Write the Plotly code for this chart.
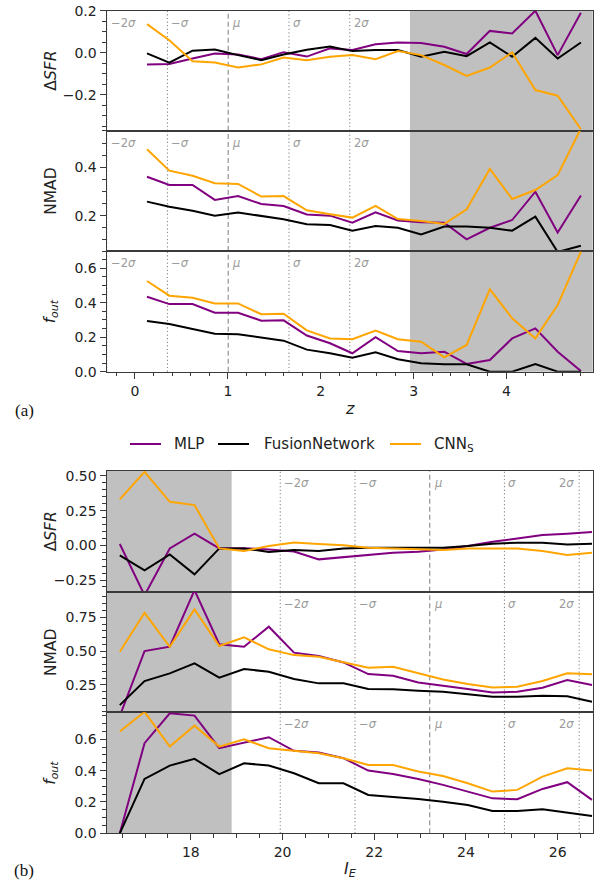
import plotly.graph_objects as go

# ---------------- data: panel (a) vs redshift z ----------------
z_a = [0.13, 0.37, 0.62, 0.86, 1.11, 1.36, 1.60, 1.85, 2.10, 2.34,
       2.59, 2.83, 3.08, 3.33, 3.57, 3.82, 4.06, 4.31, 4.55, 4.80]

dsfr_a_mlp = [-0.055, -0.053, -0.027, -0.003, -0.008, -0.030, 0.003, -0.018, 0.021, 0.013,
              0.041, 0.049, 0.046, 0.029, -0.006, 0.104, 0.092, 0.200, -0.011, 0.190]
dsfr_a_fus = [-0.003, -0.047, 0.010, 0.016, -0.011, -0.035, -0.008, 0.015, 0.030, 0.008,
              0.013, 0.013, -0.019, 0.005, -0.016, 0.049, -0.019, 0.071, -0.027, 0.049]
dsfr_a_cnn = [0.136, 0.060, -0.040, -0.046, -0.070, -0.055, -0.022, -0.035, -0.019, -0.011,
              -0.030, 0.008, -0.011, -0.058, -0.110, -0.070, 0.002, -0.177, -0.204, -0.363]

nmad_a_mlp = [0.361, 0.327, 0.327, 0.265, 0.281, 0.248, 0.240, 0.205, 0.200, 0.171,
              0.214, 0.180, 0.173, 0.171, 0.102, 0.150, 0.182, 0.299, 0.130, 0.283]
nmad_a_fus = [0.258, 0.237, 0.220, 0.200, 0.213, 0.200, 0.185, 0.165, 0.161, 0.138,
              0.157, 0.150, 0.122, 0.155, 0.155, 0.150, 0.138, 0.196, 0.050, 0.076]
nmad_a_cnn = [0.474, 0.386, 0.365, 0.334, 0.331, 0.279, 0.281, 0.222, 0.206, 0.192,
              0.240, 0.186, 0.178, 0.166, 0.226, 0.393, 0.269, 0.306, 0.368, 0.560]

fout_a_mlp = [0.435, 0.392, 0.392, 0.342, 0.342, 0.296, 0.298, 0.210, 0.165, 0.107,
              0.200, 0.120, 0.107, 0.116, 0.045, 0.068, 0.193, 0.251, 0.116, 0.004]
fout_a_fus = [0.294, 0.277, 0.248, 0.220, 0.217, 0.200, 0.180, 0.128, 0.107, 0.081,
              0.112, 0.072, 0.049, 0.043, 0.043, 0.000, 0.000, 0.045, 0.000, 0.000]
fout_a_cnn = [0.526, 0.441, 0.429, 0.396, 0.396, 0.333, 0.336, 0.240, 0.193, 0.188,
              0.238, 0.188, 0.174, 0.083, 0.155, 0.478, 0.310, 0.193, 0.387, 0.696]

# ---------------- data: panel (b) vs magnitude I_E ----------------
i_b = [16.45, 16.99, 17.54, 18.08, 18.62, 19.16, 19.70, 20.25, 20.79, 21.33,
       21.87, 22.41, 22.96, 23.50, 24.04, 24.58, 25.12, 25.67, 26.21, 26.75]

dsfr_b_mlp = [0.010, -0.360, -0.022, 0.084, -0.022, -0.020, -0.030, -0.045, -0.101, -0.084,
              -0.065, -0.053, -0.046, -0.029, -0.005, 0.026, 0.050, 0.074, 0.084, 0.096]
dsfr_b_fus = [-0.072, -0.180, -0.065, -0.209, -0.022, -0.022, -0.048, -0.034, -0.041, -0.022,
              -0.017, -0.017, -0.022, -0.017, -0.005, 0.012, 0.019, 0.019, 0.007, 0.012]
dsfr_b_cnn = [0.332, 0.530, 0.314, 0.290, -0.022, -0.041, -0.005, 0.020, 0.010, 0.000,
              -0.017, -0.024, -0.029, -0.034, -0.022, -0.024, -0.022, -0.041, -0.070, -0.053]

nmad_b_mlp = [0.020, 0.500, 0.532, 0.950, 0.550, 0.532, 0.680, 0.488, 0.463, 0.416,
              0.330, 0.317, 0.268, 0.241, 0.219, 0.194, 0.199, 0.229, 0.286, 0.249]
nmad_b_fus = [0.100, 0.278, 0.335, 0.409, 0.303, 0.367, 0.347, 0.293, 0.261, 0.261,
              0.219, 0.217, 0.206, 0.199, 0.180, 0.162, 0.162, 0.169, 0.166, 0.125]
nmad_b_cnn = [0.495, 0.783, 0.532, 0.808, 0.537, 0.601, 0.513, 0.470, 0.458, 0.416,
              0.377, 0.384, 0.335, 0.290, 0.256, 0.231, 0.236, 0.278, 0.335, 0.328]

fout_b_mlp = [0.000, 0.575, 0.766, 0.751, 0.543, 0.579, 0.613, 0.526, 0.515, 0.479,
              0.400, 0.379, 0.347, 0.309, 0.266, 0.223, 0.217, 0.283, 0.326, 0.213]
fout_b_fus = [0.000, 0.347, 0.432, 0.475, 0.377, 0.447, 0.432, 0.383, 0.319, 0.319,
              0.245, 0.234, 0.219, 0.202, 0.181, 0.143, 0.143, 0.153, 0.134, 0.111]
fout_b_cnn = [0.649, 0.775, 0.553, 0.687, 0.553, 0.600, 0.543, 0.528, 0.511, 0.479,
              0.436, 0.436, 0.394, 0.366, 0.319, 0.266, 0.277, 0.362, 0.415, 0.400]

# distribution markers (mean / sigma) and shaded ranges
mu_a, sig_a = 1.004, 0.654
mu_b, sig_b = 23.21, 1.63
shade_a = [2.96, 5.2]
shade_b = [15.5, 18.89]
sigma_labels = ["\u22122<i>\u03c3</i>", "\u2212<i>\u03c3</i>", "<i>\u03bc</i>", "<i>\u03c3</i>", "2<i>\u03c3</i>"]

series_names = ["MLP", "FusionNetwork", "CNN<sub>S</sub>"]
series_colors = ["#800080", "#000000", "#FFA500"]

# ---------------- layout helpers ----------------
W, H = 601, 883
def fx(p):
    return p / W
def fy(p):
    return 1 - p / H

X_DOM = [fx(106.5), fx(592.7)]
panels = [
    (z_a, [dsfr_a_mlp, dsfr_a_fus, dsfr_a_cnn], [-0.37, 0.2], 0.2, 0.05, ".1f", (10.7, 130.7), "a"),
    (z_a, [nmad_a_mlp, nmad_a_fus, nmad_a_cnn], [0.054, 0.551], 0.2, 0.05, ".1f", (130.7, 251.0), "a"),
    (z_a, [fout_a_mlp, fout_a_fus, fout_a_cnn], [0.0, 0.70], 0.2, 0.05, ".1f", (251.0, 371.7), "a"),
    (i_b, [dsfr_b_mlp, dsfr_b_fus, dsfr_b_cnn], [-0.334, 0.536], 0.25, 0.05, ".2f", (471.0, 591.7), "b"),
    (i_b, [nmad_b_mlp, nmad_b_fus, nmad_b_cnn], [0.047, 0.939], 0.25, 0.05, ".2f", (591.7, 712.3), "b"),
    (i_b, [fout_b_mlp, fout_b_fus, fout_b_cnn], [0.0, 0.772], 0.2, 0.05, ".1f", (712.3, 833.3), "b"),
]
ytitles = ["\u0394<i>SFR</i>", "NMAD", "<i>f</i><sub><i>out</i></sub>"] * 2

XR_A = [-0.306, 4.927]
XR_B = [16.16, 26.765]

fig = go.Figure()
shapes, annots = [], []
tickfont = dict(family="DejaVu Sans", size=14, color="#222222")
axcol = "#3a3a3a"

for k, (xs, ys, yr, ydt, ymin, fmt, (top, bot), grp) in enumerate(panels, start=1):
    xa = "x" if k == 1 else f"x{k}"
    ya = "y" if k == 1 else f"y{k}"
    for j, (yv, name, col) in enumerate(zip(ys, series_names, series_colors)):
        fig.add_trace(go.Scatter(x=xs, y=yv, mode="lines", name=name,
                                 line=dict(color=col, width=2),
                                 showlegend=False, xaxis=xa, yaxis=ya,
                                 hoverinfo="skip"))
    is_bottom = k in (3, 6)
    xr = XR_A if grp == "a" else XR_B
    xaxis = dict(domain=X_DOM, range=xr, anchor=ya, showgrid=False, zeroline=False,
                 showline=True, mirror=True, linecolor=axcol, linewidth=1,
                 tickfont=tickfont, automargin=False)
    if is_bottom:
        if grp == "a":
            xaxis.update(tickmode="linear", tick0=0, dtick=1,
                         minor=dict(ticks="outside", dtick=0.2, tick0=0, ticklen=3.5, tickcolor=axcol))
        else:
            xaxis.update(tickmode="linear", tick0=0, dtick=2,
                         minor=dict(ticks="outside", dtick=0.5, tick0=0, ticklen=3.5, tickcolor=axcol))
        xaxis.update(ticks="outside", ticklen=6, tickcolor=axcol, showticklabels=True)
    else:
        xaxis.update(ticks="", showticklabels=False)
    yaxis = dict(domain=[fy(bot), fy(top)], range=yr, anchor=xa, showgrid=False, zeroline=False,
                 showline=True, mirror=True, linecolor=axcol, linewidth=1,
                 tickmode="linear", tick0=0, dtick=ydt, tickformat=fmt,
                 ticks="outside", ticklen=6, tickcolor=axcol, tickfont=tickfont, automargin=False,
                 minor=dict(ticks="outside", dtick=ymin, tick0=0, ticklen=3.5, tickcolor=axcol))
    fig.layout[("xaxis" if k == 1 else f"xaxis{k}")] = xaxis
    fig.layout[("yaxis" if k == 1 else f"yaxis{k}")] = yaxis

    # shaded region
    sh = shade_a if grp == "a" else shade_b
    shapes.append(dict(type="rect", xref=xa, yref=f"{ya} domain", x0=sh[0], x1=sh[1], y0=0, y1=1,
                       fillcolor="#c0c0c0", line=dict(width=0), layer="below"))
    # sigma lines + labels
    mu, sg = (mu_a, sig_a) if grp == "a" else (mu_b, sig_b)
    for m, lab in zip([-2, -1, 0, 1, 2], sigma_labels):
        xv = mu + m * sg
        shapes.append(dict(type="line", xref=xa, yref=f"{ya} domain", x0=xv, x1=xv, y0=0, y1=1,
                           line=dict(color="#8a8a8a", width=1.1,
                                     dash="5px,3px" if m == 0 else "1.2px,2.4px"),
                           layer="below"))
        right_side = not (grp == "b" and m == 2)
        annots.append(dict(x=xv, y=0.975, xref=xa, yref=f"{ya} domain", text=lab, showarrow=False,
                           xanchor="left" if right_side else "right", yanchor="top",
                           xshift=2 if right_side else -3,
                           font=dict(family="DejaVu Sans", size=11.5, color="#9a9a9a")))
    # y-axis title
    annots.append(dict(x=fx(51), y=(fy(bot) + fy(top)) / 2, xref="paper", yref="paper",
                       text=ytitles[k - 1], textangle=-90, showarrow=False,
                       xanchor="center", yanchor="middle",
                       font=dict(family="DejaVu Sans", size=15.5, color="#222222")))

# x titles and panel tags
annots.append(dict(x=fx(350), y=fy(408), xref="paper", yref="paper", text="<i>z</i>", showarrow=False,
                   xanchor="center", yanchor="middle", font=dict(family="DejaVu Sans", size=16, color="#222222")))
annots.append(dict(x=fx(350), y=fy(869), xref="paper", yref="paper", text="<i>I</i><sub><i>E</i></sub>",
                   showarrow=False, xanchor="center", yanchor="middle",
                   font=dict(family="DejaVu Sans", size=16, color="#222222")))
annots.append(dict(x=fx(24), y=fy(410), xref="paper", yref="paper", text="(a)", showarrow=False,
                   xanchor="center", yanchor="middle", font=dict(family="Liberation Serif", size=17, color="#111111")))
annots.append(dict(x=fx(24), y=fy(870), xref="paper", yref="paper", text="(b)", showarrow=False,
                   xanchor="center", yanchor="middle", font=dict(family="Liberation Serif", size=17, color="#111111")))

# legend (drawn between the two panels)
legend_y = 444
legend_items = [(130, 161, 172), (218, 249, 262), (390, 421, 432)]  # line x0, line x1, text x
for (lx0, lx1, tx), name, col in zip(legend_items, series_names, series_colors):
    shapes.append(dict(type="line", xref="paper", yref="paper", x0=fx(lx0), x1=fx(lx1),
                       y0=fy(legend_y), y1=fy(legend_y), line=dict(color=col, width=2)))
    annots.append(dict(x=fx(tx), y=fy(legend_y), xref="paper", yref="paper", text=name, showarrow=False,
                       xanchor="left", yanchor="middle",
                       font=dict(family="DejaVu Sans", size=15, color="#222222")))

fig.update_layout(
    width=W, height=H, autosize=False,
    margin=dict(l=0, r=0, t=0, b=0, pad=0),
    paper_bgcolor="white", plot_bgcolor="white",
    shapes=shapes, annotations=annots,
    showlegend=False,
)

fig.write_html("out.html",
               config={"displayModeBar": False, "staticPlot": True},
               post_script="document.body.style.margin='0';document.body.style.padding='0';"
                           "document.body.style.overflow='hidden';")
